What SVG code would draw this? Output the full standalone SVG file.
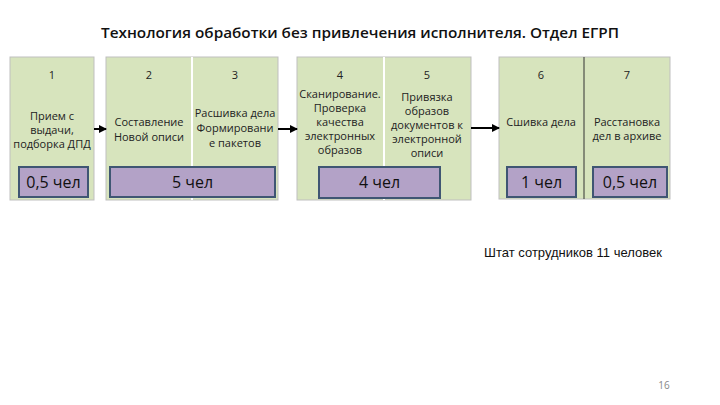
<svg xmlns="http://www.w3.org/2000/svg" width="720" height="405" viewBox="0 0 720 405">
<defs>
<marker id="ah" markerWidth="8" markerHeight="8" refX="7" refY="4" orient="auto" markerUnits="userSpaceOnUse">
<path d="M0,0 L8,4 L0,8 z" fill="#000"/>
</marker>
<style>
.box{fill:#D7E4BD;stroke:#BFBFBF;stroke-width:1}
.sep{stroke:#FFFFFF;stroke-width:2}
.sepd{stroke:#333;stroke-width:1}
.ppl{fill:#B3A2C7;stroke:#3F5673;stroke-width:2}
.t{font-family:"Open Sans","Liberation Sans",sans-serif;font-size:11px;fill:#222;text-anchor:middle}
.n{font-family:"Open Sans","Liberation Sans",sans-serif;font-size:11px;fill:#222;text-anchor:middle}
.p{font-family:"Open Sans","Liberation Sans",sans-serif;font-size:16px;fill:#111;text-anchor:middle}
.c{stroke:#000;stroke-width:2;fill:none}
</style>
</defs>
<rect width="720" height="405" fill="#fff"/>
<text x="360" y="38" text-anchor="middle" font-family="Open Sans, Liberation Sans, sans-serif" font-size="14.5" font-weight="600" fill="#111" textLength="518" lengthAdjust="spacingAndGlyphs">Технология обработки без привлечения исполнителя. Отдел ЕГРП</text>

<g id="node1">
<rect class="box" x="10" y="57" width="84" height="143"/>
<text class="n" x="52" y="79">1</text>
<text class="t" x="52" y="120">Прием с</text>
<text class="t" x="52" y="134">выдачи,</text>
<text class="t" x="52" y="148">подборка ДПД</text>
<rect class="ppl" x="19" y="167" width="69" height="30"/>
<text class="p" x="53.5" y="188">0,5 чел</text>
</g>

<g id="node2-3">
<rect class="box" x="106" y="57" width="172" height="143"/>
<line class="sep" x1="192" y1="57" x2="192" y2="200"/>
<text class="n" x="149" y="79">2</text>
<text class="t" x="149" y="126">Составление</text>
<text class="t" x="149" y="141">Новой описи</text>
<text class="n" x="235" y="79">3</text>
<text class="t" x="235" y="117">Расшивка дела</text>
<text class="t" x="235" y="132">Формировани</text>
<text class="t" x="235" y="147">е пакетов</text>
<rect class="ppl" x="110" y="167" width="165" height="30"/>
<text class="p" x="192.5" y="188">5 чел</text>
</g>

<g id="node4-5">
<rect class="box" x="297" y="57" width="174" height="143"/>
<line class="sep" x1="384" y1="57" x2="384" y2="200"/>
<text class="n" x="340" y="79">4</text>
<text class="t" x="340" y="98">Сканирование.</text>
<text class="t" x="340" y="112">Проверка</text>
<text class="t" x="340" y="126">качества</text>
<text class="t" x="340" y="140">электронных</text>
<text class="t" x="340" y="154">образов</text>
<text class="n" x="427" y="79">5</text>
<text class="t" x="427" y="101">Привязка</text>
<text class="t" x="427" y="115">образов</text>
<text class="t" x="427" y="129">документов к</text>
<text class="t" x="427" y="143">электронной</text>
<text class="t" x="427" y="157">описи</text>
<rect class="ppl" x="319" y="167" width="121" height="31"/>
<text class="p" x="379.5" y="188">4 чел</text>
</g>

<g id="node6-7">
<rect class="box" x="499" y="57" width="171" height="142"/>
<line class="sepd" x1="584" y1="57" x2="584" y2="199"/>
<text class="n" x="541" y="79">6</text>
<text class="t" x="541" y="126">Сшивка дела</text>
<text class="n" x="627" y="79">7</text>
<text class="t" x="627" y="126">Расстановка</text>
<text class="t" x="627" y="140">дел в архиве</text>
<rect class="ppl" x="507" y="167" width="69" height="30"/>
<text class="p" x="541.5" y="188">1 чел</text>
<rect class="ppl" x="593" y="167" width="74" height="30"/>
<text class="p" x="630" y="188">0,5 чел</text>
</g>

<g id="connectors">
<line class="c" x1="94" y1="129" x2="106" y2="129" marker-end="url(#ah)"/>
<line class="c" x1="278" y1="129" x2="297" y2="129" marker-end="url(#ah)"/>
<line class="c" x1="471" y1="128" x2="499" y2="128" marker-end="url(#ah)"/>
</g>

<text x="573" y="257" text-anchor="middle" font-family="Liberation Sans, Arial, sans-serif" font-size="13" fill="#111">Штат сотрудников 11 человек</text>
<text x="664" y="389" text-anchor="middle" font-family="Open Sans, Liberation Sans, sans-serif" font-size="10" fill="#888">16</text>
</svg>
